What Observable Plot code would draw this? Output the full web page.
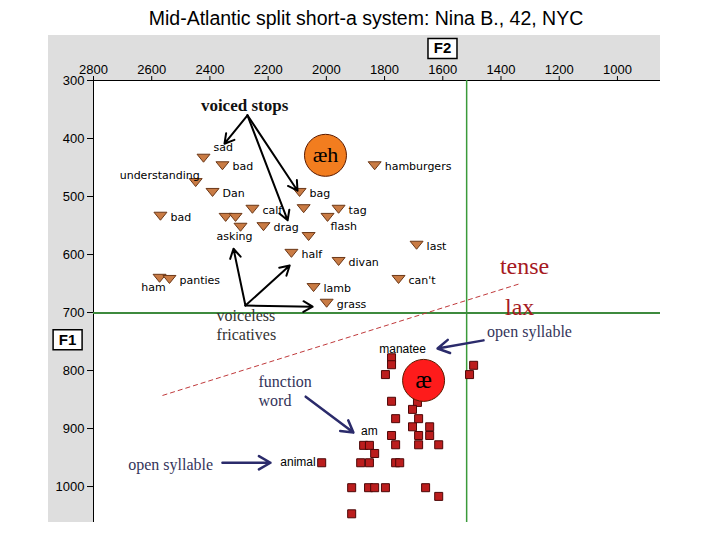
<!DOCTYPE html>
<html><head><meta charset="utf-8">
<script src="https://cdn.jsdelivr.net/npm/d3@7"></script>
<script src="https://cdn.jsdelivr.net/npm/@observablehq/plot@0.6"></script>
<style>
html,body{margin:0;padding:0;background:#fff;width:720px;height:540px;overflow:hidden;}
#title{position:absolute;left:0;top:0;width:720px;padding-left:12px;box-sizing:border-box;height:35px;line-height:36px;text-align:center;font-family:"Liberation Sans",Arial,sans-serif;font-size:19.5px;color:#000;}
#chart{position:absolute;left:48px;top:35px;}
</style></head><body>
<div id="title">Mid-Atlantic split short-a system: Nina B., 42, NYC</div>
<div id="chart"></div>
<script>
// Axis ticks
const xTicks = [2800, 2600, 2400, 2200, 2000, 1800, 1600, 1400, 1200, 1000];
const yTicks = [300, 400, 500, 600, 700, 800, 900, 1000];

// Tense /æh/ tokens (triangles): word, F2, F1
const triWord = ["sad","bad","understanding","Dan","bad","","","asking","calf","drag","","bag","","tag","flash","hamburgers","last","divan","half","can't","lamb","grass","ham","panties"];
const triF2 = [2422,2357,2449,2391,2570,2346,2312,2295,2254,2216,2061,2092,2078,1958,1996,1834,1690,1958,2120,1752,2044,1999,2573,2539];
const triF1 = [434,447,476,493,534,536,536,553,522,552,569,493,521,522,536,447,584,612,598,643,657,684,641,643];

// Lax /æ/ tokens (squares)
const sqWord = ["manatee","","","","","","","","","","","","","","","","","","","am","","","","","","animal","","","","","","",""];
const sqF2 = [1776,1776,1797,1494,1508,1776,1687,1704,1762,1683,1704,1645,1645,1683,1776,1762,1683,1614,1872,1852,1834,1882,1852,1762,1748,2016,1913,1855,1834,1797,1659,1614,1913];
const sqF1 = [778,790,807,791,807,853,855,867,883,883,897,897,912,912,912,928,928,928,929,929,943,959,959,959,959,959,1002,1002,1002,1002,1002,1017,1047];

// Label placement groups
const labelRight = ["bad","Dan","calf","drag","bag","tag","hamburgers","last","divan","half","can't","lamb","grass","panties"];
const labelBelow = ["asking","ham"];

// Vowel means
const meanLabel = ["æh","æ"];
const meanF2 = [2003, 1666];
const meanF1 = [429, 817];

// Reference lines
const splitF2 = 1518;
const splitF1 = 701;
const dashF2 = [2563, 1333];
const dashF1 = [843, 650];

// Annotations
const voicedFrom = [2271, 360];
const voicedToF2 = [2350, 2133, 2099];
const voicedToF1 = [409, 541, 490];
const fricFrom = [2278, 688];
const fricToF2 = [2319, 2126, 2047];
const fricToF1 = [590, 619, 690];
const navyArrowF2a = [1460, 2071, 2357];
const navyArrowF1a = [748, 845, 959];
const navyArrowF2b = [1618, 1907, 2192];
const navyArrowF1b = [762, 907, 959];

const noteText = ["voiced stops","voiceless\nfricatives","tense","lax","open syllable","function\nword","open syllable"];
const noteF2 = [2281, 2377, 1319, 1336, 1302, 2233, 2535];
const noteF1 = [343, 720, 621, 691, 734, 834, 962];

const tri = triWord.map((w, i) => ({word: w, f2: triF2[i], f1: triF1[i]}));
const sq = sqWord.map((w, i) => ({word: w, f2: sqF2[i], f1: sqF1[i]}));
const means = meanLabel.map((l, i) => ({label: l, f2: meanF2[i], f1: meanF1[i]}));
const notes = noteText.map((t, i) => ({text: t, f2: noteF2[i], f1: noteF1[i]}));

const triDown = {draw(ctx) { ctx.moveTo(-6.5, -4); ctx.lineTo(6.5, -4); ctx.lineTo(0, 4); ctx.closePath(); }};
const square = {draw(ctx) { ctx.rect(-4, -4, 8, 8); }};
const box = {draw(ctx) { ctx.rect(-14.5, -10, 29, 20); }};

const black = "#000";
const navy = "#2b2b6b";
const serif = "'Liberation Serif', 'Times New Roman', serif";
const sans = "'Liberation Sans', Arial, sans-serif";
const dejavu = "'DejaVu Sans', Verdana, sans-serif";

const chart = Plot.plot({
  width: 612, height: 487,
  marginLeft: 45, marginTop: 45, marginRight: 0, marginBottom: 0,
  x: {domain: [2800, 852]},
  y: {domain: [300, 1062], range: [45, 487]},
  style: {background: "#dedede", fontFamily: sans, fontSize: "13px", color: "#000"},
  marks: [
    Plot.frame({fill: "white", stroke: "none"}),
    Plot.axisX({anchor: "top", ticks: xTicks, tickSize: 5, tickPadding: 2, label: null, fontSize: 13, tickFormat: d => String(d)}),
    Plot.axisY({anchor: "left", ticks: yTicks, tickSize: 6, tickPadding: 3, label: null, fontSize: 13, tickFormat: d => String(d)}),
    Plot.ruleY([300], {stroke: black}),
    Plot.ruleX([2800], {stroke: black}),
    Plot.ruleX([splitF2], {stroke: "#3a9a3a", strokeWidth: 1.5}),
    Plot.ruleY([splitF1], {stroke: "#3d8a3d", strokeWidth: 2}),
    Plot.link([0], {x1: dashF2[0], y1: dashF1[0], x2: dashF2[1], y2: dashF1[1], stroke: "#c0393b", strokeDasharray: "5,3", strokeWidth: 1}),
    // box labels F2 / F1
    Plot.dot([0], {x: 1601, y: 245, symbol: box, fill: "white", stroke: black, strokeWidth: 1.5}),
    Plot.text([0], {x: 1601, y: 245, text: () => "F2", fontWeight: "bold", fontSize: 15, fontFamily: sans}),
    Plot.dot([0], {x: 2889, y: 747, symbol: box, fill: "white", stroke: black, strokeWidth: 1.5}),
    Plot.text([0], {x: 2889, y: 747, text: () => "F1", fontWeight: "bold", fontSize: 15, fontFamily: sans}),
    // triangles
    Plot.dot(tri, {x: "f2", y: "f1", symbol: triDown, fill: "#c97b44", stroke: "#6b3818", strokeWidth: 1}),
    Plot.text(tri.filter(d => labelRight.includes(d.word)), {x: "f2", y: "f1", text: "word", textAnchor: "start", dx: 10, dy: 1, fontFamily: dejavu, fontSize: 11}),
    Plot.text(tri.filter(d => d.word === "sad"), {x: "f2", y: "f1", text: "word", textAnchor: "start", dx: 10, dy: -11, fontFamily: dejavu, fontSize: 11}),
    Plot.text(tri.filter(d => d.word === "understanding"), {x: "f2", y: "f1", text: "word", textAnchor: "end", dx: 4, dy: -7, fontFamily: dejavu, fontSize: 11}),
    Plot.text(tri.filter(d => labelBelow.includes(d.word)), {x: "f2", y: "f1", text: "word", textAnchor: "middle", dx: -6, dy: 9, fontFamily: dejavu, fontSize: 11}),
    Plot.text(tri.filter(d => d.word === "flash"), {x: "f2", y: "f1", text: "word", textAnchor: "start", dx: 3, dy: 9, fontFamily: dejavu, fontSize: 11}),
    // squares
    Plot.dot(sq, {x: "f2", y: "f1", symbol: square, fill: "#bb1d1d", stroke: "#4d0707", strokeWidth: 1}),
    Plot.text(sq.filter(d => d.word === "manatee"), {x: "f2", y: "f1", text: "word", dx: 11, dy: -9, fontFamily: sans, fontSize: 12}),
    Plot.text(sq.filter(d => d.word === "am"), {x: "f2", y: "f1", text: "word", dx: 0, dy: -14, fontFamily: sans, fontSize: 12}),
    Plot.text(sq.filter(d => d.word === "animal"), {x: "f2", y: "f1", text: "word", textAnchor: "end", dx: -6, dy: -1, fontFamily: sans, fontSize: 12}),
    // means
    Plot.dot(means, {x: "f2", y: "f1", r: 21, fill: (d, i) => i === 0 ? "#f27d1f" : "#fe1b1b", stroke: "#5a1a00", strokeWidth: 1}),
    Plot.text(means, {x: "f2", y: "f1", text: "label", fontFamily: serif, fontSize: (d, i) => i === 0 ? 22 : 25, fill: black}),
    // arrows
    Plot.arrow(voicedToF2, {x1: voicedFrom[0], y1: voicedFrom[1], x2: d => d, y2: (d, i) => voicedToF1[i], stroke: black, strokeWidth: 2, headLength: 8}),
    Plot.arrow(fricToF2, {x1: fricFrom[0], y1: fricFrom[1], x2: d => d, y2: (d, i) => fricToF1[i], stroke: black, strokeWidth: 2, headLength: 8}),
    Plot.arrow(navyArrowF2a, {x1: d => d, y1: (d, i) => navyArrowF1a[i], x2: (d, i) => navyArrowF2b[i], y2: (d, i) => navyArrowF1b[i], stroke: navy, strokeWidth: 2.5, headLength: 8}),
    // notes
    Plot.text(notes.slice(0, 1), {x: "f2", y: "f1", text: "text", fontFamily: serif, fontSize: 17, fontWeight: "bold", fill: "#111"}),
    Plot.text(notes.slice(1, 2), {x: "f2", y: "f1", text: "text", textAnchor: "start", fontFamily: serif, fontSize: 16, fill: "#333", lineHeight: 1.2}),
    Plot.text(notes.slice(2, 4), {x: "f2", y: "f1", text: "text", fontFamily: serif, fontSize: 24, fill: "#a61a1f"}),
    Plot.text(notes.slice(4, 5), {x: "f2", y: "f1", text: "text", fontFamily: serif, fontSize: 16, fill: "#34345a"}),
    Plot.text(notes.slice(5, 6), {x: "f2", y: "f1", text: "text", textAnchor: "start", fontFamily: serif, fontSize: 16, fill: "#34345a", lineHeight: 1.2}),
    Plot.text(notes.slice(6, 7), {x: "f2", y: "f1", text: "text", fontFamily: serif, fontSize: 16, fill: "#34345a"})
  ]
});
document.getElementById("chart").appendChild(chart);
</script>
</body></html>
